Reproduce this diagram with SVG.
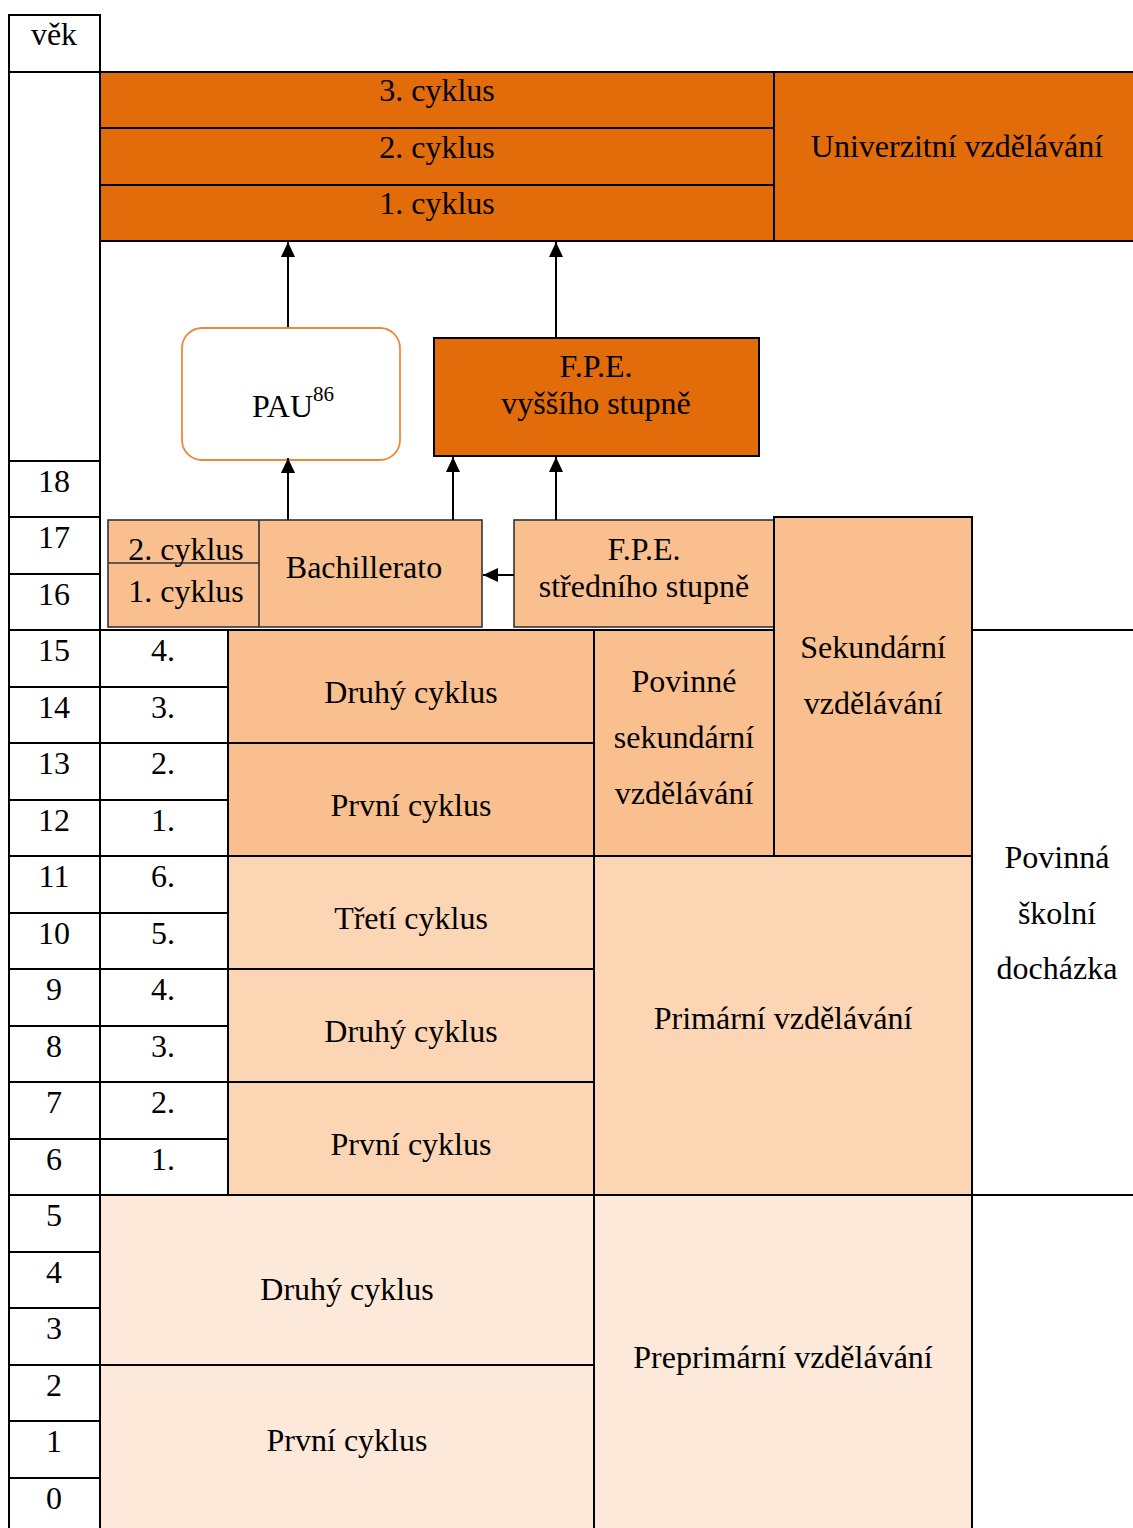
<svg xmlns="http://www.w3.org/2000/svg" width="1133" height="1528" viewBox="0 0 1133 1528">
<style>
text{font-family:"Liberation Serif","Times New Roman",serif;font-size:32px;fill:#000;text-anchor:middle}
.ln{stroke:#000;stroke-width:2;fill:none}
.dk{fill:#E26B0A}
.md{fill:#FABF8F}
.lt{fill:#FCD5B4}
.xl{fill:#FDE9D9}
.bx{stroke:#000;stroke-width:2}
.bs{stroke:#333;stroke-width:1.6}
.con{stroke:#000;stroke-width:2;fill:none;marker-end:url(#ah)}
</style>
<defs>
<marker id="ah" viewBox="0 0 15 14" refX="15" refY="7" markerWidth="15" markerHeight="14" markerUnits="userSpaceOnUse" orient="auto">
<path d="M0,0 L15,7 L0,14 Z" fill="#000"/>
</marker>
</defs>
<rect width="1133" height="1528" fill="#fff"/>

<g id="age-axis">
<rect x="9" y="15" width="91" height="57" fill="#fff" class="ln"/>
<text x="54" y="45">věk</text>
<line class="ln" x1="9" y1="15" x2="9" y2="1528"/>
<line class="ln" x1="100" y1="15" x2="100" y2="1528"/>
<g class="ln">
<line x1="9" y1="461" x2="100" y2="461"/>
<line x1="9" y1="517" x2="100" y2="517"/>
<line x1="9" y1="574" x2="100" y2="574"/>
<line x1="9" y1="687" x2="228" y2="687"/>
<line x1="9" y1="743" x2="228" y2="743"/>
<line x1="9" y1="800" x2="228" y2="800"/>
<line x1="9" y1="856" x2="228" y2="856"/>
<line x1="9" y1="913" x2="228" y2="913"/>
<line x1="9" y1="969" x2="228" y2="969"/>
<line x1="9" y1="1026" x2="228" y2="1026"/>
<line x1="9" y1="1082" x2="228" y2="1082"/>
<line x1="9" y1="1139" x2="228" y2="1139"/>
<line x1="9" y1="1252" x2="100" y2="1252"/>
<line x1="9" y1="1308" x2="100" y2="1308"/>
<line x1="9" y1="1365" x2="100" y2="1365"/>
<line x1="9" y1="1421" x2="100" y2="1421"/>
<line x1="9" y1="1478" x2="100" y2="1478"/>
<line x1="228" y1="630" x2="228" y2="1195"/>
</g>
<text x="54" y="492">18</text>
<text x="54" y="548">17</text>
<text x="54" y="605">16</text>
<text x="54" y="661">15</text>
<text x="54" y="718">14</text>
<text x="54" y="774">13</text>
<text x="54" y="831">12</text>
<text x="54" y="887">11</text>
<text x="54" y="944">10</text>
<text x="54" y="1000">9</text>
<text x="54" y="1057">8</text>
<text x="54" y="1113">7</text>
<text x="54" y="1170">6</text>
<text x="54" y="1226">5</text>
<text x="54" y="1283">4</text>
<text x="54" y="1339">3</text>
<text x="54" y="1396">2</text>
<text x="54" y="1452">1</text>
<text x="54" y="1509">0</text>
<text x="163" y="661">4.</text>
<text x="163" y="718">3.</text>
<text x="163" y="774">2.</text>
<text x="163" y="831">1.</text>
<text x="163" y="887">6.</text>
<text x="163" y="944">5.</text>
<text x="163" y="1000">4.</text>
<text x="163" y="1057">3.</text>
<text x="163" y="1113">2.</text>
<text x="163" y="1170">1.</text>
</g>

<g id="university">
<rect x="100" y="72" width="1040" height="169" class="dk bx"/>
<line class="ln" x1="100" y1="128" x2="774" y2="128"/>
<line class="ln" x1="100" y1="185" x2="774" y2="185"/>
<line class="ln" x1="774" y1="72" x2="774" y2="241"/>
<text x="437" y="101">3. cyklus</text>
<text x="437" y="158">2. cyklus</text>
<text x="437" y="214">1. cyklus</text>
<text x="957" y="157">Univerzitní vzdělávání</text>
</g>

<g id="pau">
<rect x="182" y="328" width="218" height="132" rx="20" ry="20" fill="#fff" stroke="#F0883A" stroke-width="1.8"/>
<text x="293" y="417"><tspan>PAU</tspan><tspan font-size="21" dy="-16">86</tspan></text>
</g>

<g id="fpe-vyssi">
<rect x="434" y="338" width="325" height="118" class="dk bx"/>
<text x="596" y="377">F.P.E.</text>
<text x="596" y="414">vyššího stupně</text>
</g>

<g id="bachillerato">
<rect x="108" y="520" width="374" height="107" class="md bs"/>
<line x1="259" y1="520" x2="259" y2="627" class="bs"/>
<line x1="108" y1="563" x2="259" y2="563" class="bs"/>
<text x="186" y="560">2. cyklus</text>
<text x="186" y="602">1. cyklus</text>
<text x="364" y="578">Bachillerato</text>
</g>

<g id="fpe-stredni">
<rect x="514" y="520" width="260" height="107" class="md bs"/>
<text x="644" y="560">F.P.E.</text>
<text x="644" y="597">středního stupně</text>
</g>

<g id="sekundarni">
<rect x="774" y="517" width="198" height="339" class="md bx"/>
<text x="873" y="658">Sekundární</text>
<text x="873" y="714">vzdělávání</text>
</g>

<g id="sec-cycles">
<rect x="228" y="630" width="366" height="113" class="md bx"/>
<text x="411" y="703">Druhý cyklus</text>
<rect x="228" y="743" width="366" height="113" class="md bx"/>
<text x="411" y="816">První cyklus</text>
</g>

<g id="povinne-sekundarni">
<rect x="594" y="630" width="180" height="226" class="md bx"/>
<text x="684" y="692">Povinné</text>
<text x="684" y="748">sekundární</text>
<text x="684" y="804">vzdělávání</text>
</g>

<g id="prim-cycles">
<rect x="228" y="856" width="366" height="113" class="lt bx"/>
<text x="411" y="929">Třetí cyklus</text>
<rect x="228" y="969" width="366" height="113" class="lt bx"/>
<text x="411" y="1042">Druhý cyklus</text>
<rect x="228" y="1082" width="366" height="113" class="lt bx"/>
<text x="411" y="1155">První cyklus</text>
</g>

<g id="primarni">
<rect x="594" y="856" width="378" height="339" class="lt bx"/>
<text x="783" y="1029">Primární vzdělávání</text>
</g>

<g id="povinna-dochazka">
<line class="ln" x1="972" y1="630" x2="1133" y2="630"/>
<line class="ln" x1="972" y1="1195" x2="1133" y2="1195"/>
<line class="ln" x1="9" y1="630" x2="228" y2="630"/>
<text x="1057" y="868">Povinná</text>
<text x="1057" y="924">školní</text>
<text x="1057" y="979">docházka</text>
</g>

<g id="preprim-cycles">
<rect x="100" y="1195" width="494" height="170" class="xl bx"/>
<text x="347" y="1300">Druhý cyklus</text>
<rect x="100" y="1365" width="494" height="170" class="xl bx"/>
<text x="347" y="1451">První cyklus</text>
</g>

<g id="preprimarni">
<rect x="594" y="1195" width="378" height="340" class="xl bx"/>
<text x="783" y="1368">Preprimární vzdělávání</text>
</g>
<line class="ln" x1="9" y1="1195" x2="100" y2="1195"/>

<g id="connectors">
<line class="con" x1="288" y1="327" x2="288" y2="242"/>
<line class="con" x1="556" y1="337" x2="556" y2="242"/>
<line class="con" x1="288" y1="520" x2="288" y2="458"/>
<line class="con" x1="453" y1="520" x2="453" y2="457"/>
<line class="con" x1="556" y1="520" x2="556" y2="457"/>
<line class="con" x1="514" y1="575" x2="483" y2="575"/>
</g>
</svg>
